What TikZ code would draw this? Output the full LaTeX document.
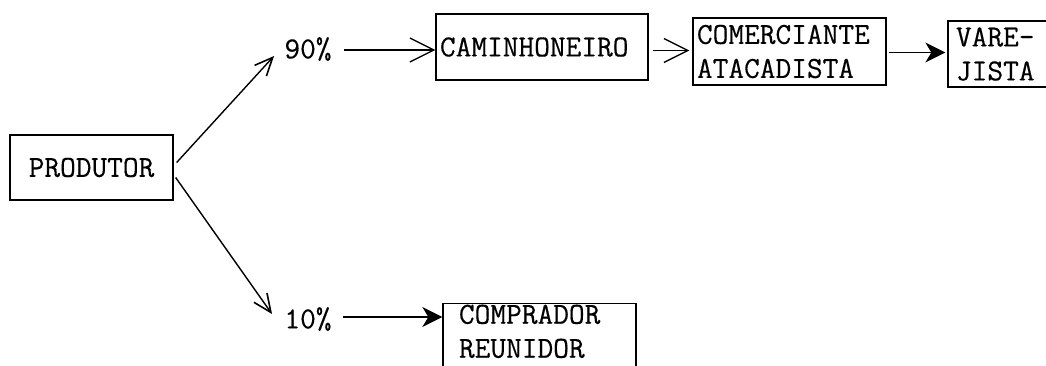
\documentclass[tikz,border=0pt]{standalone}
\usepackage{fontspec}
\newfontfamily\typewriter[FakeBold=0.4]{Latin Modern Mono}
\usetikzlibrary{arrows.meta,calc}
\begin{document}
\begin{tikzpicture}[x=1pt,y=-1pt,
  every node/.style={font=\typewriter\fontsize{30.5}{34}\selectfont},
  box/.style={draw,line width=1.3pt,inner ysep=0pt},
  lbl/.style={inner sep=0pt},
  link/.style={line width=1.4pt},
  barb/.style={link,-{Straight Barb[length=24pt,width=24pt,line width=1.3pt]}},
  solid head/.style={link,-{Stealth[length=20pt,width=20pt,inset=6pt]}},
  diag/.style={link,-{Straight Barb[length=18pt,width=16pt,line width=1.6pt]}}]
\useasboundingbox (0,0) rectangle (1046,365);

% boxes of the marketing chain
\node[box,minimum width=163pt,minimum height=65pt] (prod) at (91.5,167.5) {PRODUTOR};
\node[box,inner xsep=4pt,text width=204pt,align=left,minimum height=66pt] (cam) at (542,47) {CAMINHONEIRO};
\node[box,inner xsep=4pt,text width=185pt,align=left,minimum height=67pt] (com) at (789.5,51.5) {COMERCIANTE\\ATACADISTA};
\node[box,inner xsep=8pt,text width=96pt,align=left,minimum height=66pt] (var) at (1004,54) {VARE-\\JISTA};
% this box runs on below the lower edge
\node[box,anchor=north,inner xsep=16pt,inner ysep=1pt,text width=161pt,align=left,text depth=62pt] (comp) at (539.5,303) {COMPRADOR\\[0pt]REUNIDOR};

% shares
\node[lbl] (p90) at (308,49) {90\%};
\node[lbl] (p10) at (308,319) {10\%};

% free ends of the branches
\coordinate (t90) at (274,56);
\coordinate (t10) at (272,314);

\draw[diag] ($(prod.east)+(3,-5)$) -- (t90);
\draw[diag] ($(prod.east)+(2,10)$) -- (t10);

\draw[barb] ($(p90.east)+(12,1)$) -- (cam.west |- {$(p90.east)+(0,1)$});
\draw[solid head] ($(p10.east)+(11,-2)$) -- (comp.west |- {$(p10.east)+(0,-2)$});
\draw[barb] ($(cam.east |- com.west)+(4,-1)$) -- ($(com.west)+(-3,-1)$);
\draw[solid head] ($(com.east)+(2,1)$) -- ($(com.east -| var.west)+(-2,1)$);
\end{tikzpicture}
\end{document}
